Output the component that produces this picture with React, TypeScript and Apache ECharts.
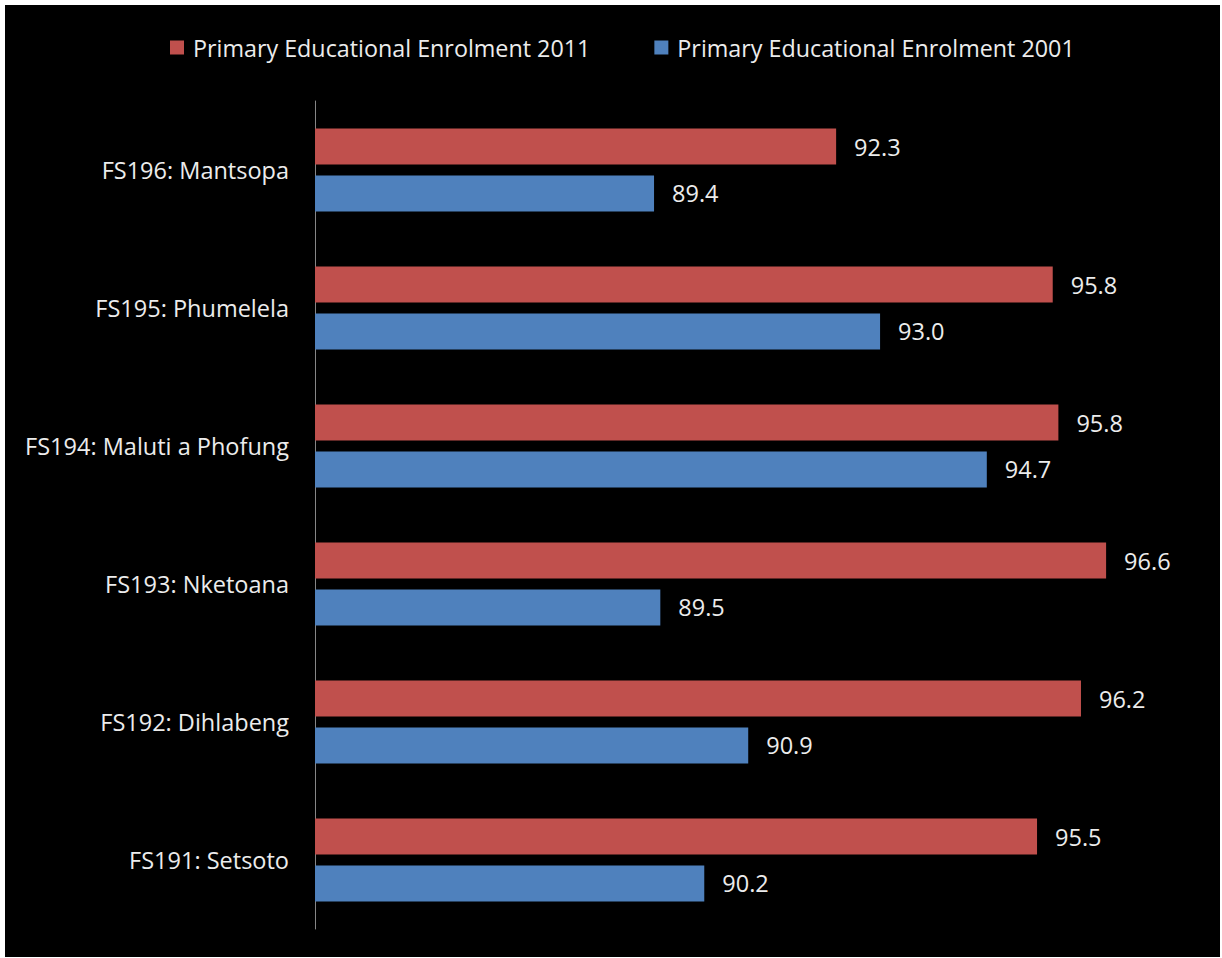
import React, { useEffect, useRef } from "react";
import * as echarts from "echarts";

const categories = [
  "FS196: Mantsopa",
  "FS195: Phumelela",
  "FS194: Maluti a Phofung",
  "FS193: Nketoana",
  "FS192: Dihlabeng",
  "FS191: Setsoto",
];
const enrol2011 = [92.3, 95.75, 95.84, 96.6, 96.2, 95.5];
const enrol2001 = [89.4, 93.0, 94.7, 89.5, 90.9, 90.2];
const seriesNames = ["Primary Educational Enrolment 2011", "Primary Educational Enrolment 2001"];

const FONT = "'Open Sans', 'Noto Sans', sans-serif";
const FS = 23.5;

export default function App() {
  const ref = useRef<HTMLDivElement>(null);
  useEffect(() => {
    if (!ref.current) return;
    const chart = echarts.init(ref.current, undefined, { renderer: "svg" });
    const label = {
      show: true,
      position: "right" as const,
      distance: 18,
      color: "#ececec",
      fontFamily: FONT,
      fontSize: FS,
      formatter: (p: any) => Number(p.value).toFixed(1),
    };
    chart.setOption({
      animation: false,
      backgroundColor: "#000000",
      textStyle: { fontFamily: FONT },
      legend: {
        top: 26,
        left: 160,
        itemWidth: 14,
        itemHeight: 14,
        itemGap: 64,
        icon: "rect",
        textStyle: { color: "#ececec", fontSize: 23.3, fontFamily: FONT, padding: [0, 0, 0, 4] },
        data: seriesNames,
      },
      grid: { left: 310, right: 26, top: 96, bottom: 28, containLabel: false },
      xAxis: {
        type: "value",
        min: 84,
        max: 98,
        show: false,
      },
      yAxis: {
        type: "category",
        inverse: true,
        data: categories,
        axisLine: { show: true, lineStyle: { color: "#868686", width: 1 } },
        axisTick: { show: false },
        axisLabel: { color: "#ececec", fontSize: FS, fontFamily: FONT, margin: 26 },
        splitLine: { show: false },
      },
      series: [
        {
          name: seriesNames[0],
          type: "bar",
          data: enrol2011,
          barWidth: 36,
          barGap: "30%",
          itemStyle: { color: "#C0504D" },
          label,
        },
        {
          name: seriesNames[1],
          type: "bar",
          data: enrol2001,
          barWidth: 36,
          barGap: "30%",
          itemStyle: { color: "#4F81BD" },
          label,
        },
      ],
    });
    return () => chart.dispose();
  }, []);
  return (
    <div style={{ position: "absolute", left: 0, top: 0, width: 1222, height: 958, background: "#ffffff" }}>
      <div ref={ref} style={{ position: "absolute", left: 5, top: 5, width: 1215, height: 952 }} />
    </div>
  );
}
